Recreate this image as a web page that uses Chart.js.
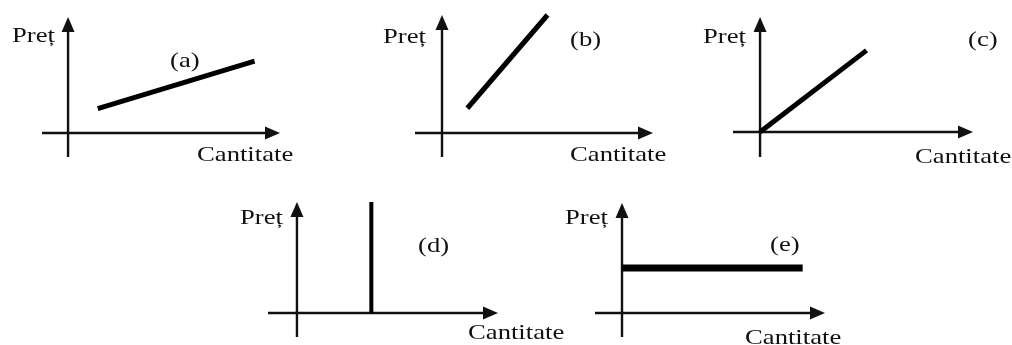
<!DOCTYPE html>
<html>
<head>
<meta charset="utf-8">
<script src="https://cdn.jsdelivr.net/npm/chart.js@4"></script>
<style>
  body { margin: 0; background: #fff; width: 1012px; height: 345px; position: relative; overflow: hidden; }
  canvas { position: absolute; }
  .lbl { position: absolute; font-family: 'Liberation Serif', serif; font-size: 21px; line-height: 1;
         color: #111; transform: scaleX(1.27); transform-origin: left top; white-space: nowrap; }
</style>
</head>
<body>
<script>
// data for the five supply curves (quantity / price, arbitrary units)
const panelNames = ['(a)', '(b)', '(c)', '(d)', '(e)']
const axisQty = 'Cantitate'
const axisPrice = 'Preț'

const qtyA = [1.4, 8.8]
const priceA = [2.1, 6.2]
const qtyB = [1.2, 5.0]
const priceB = [2.1, 10]
const qtyC = [0, 5.0]
const priceC = [0, 7.1]
const qtyD = [3.7, 3.7]
const priceD = [0, 10]
const qtyE = [0, 8.9]
const priceE = [4.1, 4.1]

const allQty = [qtyA, qtyB, qtyC, qtyD, qtyE]
const allPrice = [priceA, priceB, priceC, priceD, priceE]

// where each little plot sits on the page
const boxes = [
  {left: 42, top: 17, w: 238, h: 140, xMin: -1.23, yMin: -2.07, lw: 5},
  {left: 415, top: 15, w: 238, h: 142, xMin: -1.28, yMin: -2.03, lw: 5},
  {left: 733, top: 17, w: 240, h: 140, xMin: -1.27, yMin: -2.17, lw: 5},
  {left: 268, top: 202, w: 230, h: 135, xMin: -1.44, yMin: -2.16, lw: 4},
  {left: 595, top: 203, w: 230, h: 134, xMin: -1.33, yMin: -2.18, lw: 7}
]

// text spots: [price label, panel name, quantity label]  (left, top)
const textSpots = [
  [[12, 25], [170, 50], [197, 144]],
  [[383, 26], [570, 29], [570, 144]],
  [[703, 26], [968, 29], [915, 146]],
  [[240, 207], [418, 235], [468, 322]],
  [[565, 207], [770, 234], [745, 327]]
]

const PAD = 10

// draws the two axes through 0 with arrow heads
const arrowAxes = {
  id: 'arrowAxes',
  beforeDatasetsDraw(chart) {
    const ctx = chart.ctx
    const xs = chart.scales.x
    const ys = chart.scales.y
    const x0 = xs.getPixelForValue(0)
    const y0 = ys.getPixelForValue(0)
    const xEnd = xs.getPixelForValue(xs.max)
    const yEnd = ys.getPixelForValue(ys.max)
    ctx.save()
    ctx.strokeStyle = '#111'
    ctx.fillStyle = '#111'
    ctx.lineWidth = 2.4
    ctx.beginPath()
    ctx.moveTo(xs.getPixelForValue(xs.min), y0)
    ctx.lineTo(xEnd - 10, y0)
    ctx.moveTo(x0, ys.getPixelForValue(ys.min))
    ctx.lineTo(x0, yEnd + 10)
    ctx.stroke()
    // arrow heads
    ctx.beginPath()
    ctx.moveTo(xEnd, y0)
    ctx.lineTo(xEnd - 15, y0 - 6.5)
    ctx.lineTo(xEnd - 15, y0 + 6.5)
    ctx.closePath()
    ctx.fill()
    ctx.beginPath()
    ctx.moveTo(x0, yEnd)
    ctx.lineTo(x0 - 6.5, yEnd + 15)
    ctx.lineTo(x0 + 6.5, yEnd + 15)
    ctx.closePath()
    ctx.fill()
    ctx.restore()
  }
}

boxes.forEach((b, i) => {
  const cv = document.createElement('canvas')
  cv.width = b.w + PAD * 2
  cv.height = b.h + PAD * 2
  cv.style.left = (b.left - PAD) + 'px'
  cv.style.top = (b.top - PAD) + 'px'
  document.body.appendChild(cv)

  const pts = allQty[i].map((q, k) => ({x: q, y: allPrice[i][k]}))

  new Chart(cv, {
    type: 'scatter',
    data: {
      datasets: [{
        data: pts,
        showLine: true,
        borderColor: '#000',
        borderWidth: b.lw,
        borderCapStyle: 'butt',
        pointRadius: 0,
        clip: false
      }]
    },
    options: {
      responsive: false,
      animation: false,
      devicePixelRatio: 1,
      layout: {padding: PAD},
      plugins: {legend: {display: false}, tooltip: {enabled: false}},
      scales: {
        x: {type: 'linear', min: b.xMin, max: 10, display: false},
        y: {type: 'linear', min: b.yMin, max: 10, display: false}
      }
    },
    plugins: [arrowAxes]
  })

  const words = [axisPrice, panelNames[i], axisQty]
  words.forEach((w, k) => {
    const s = document.createElement('span')
    s.className = 'lbl'
    s.textContent = w
    s.style.left = textSpots[i][k][0] + 'px'
    s.style.top = textSpots[i][k][1] + 'px'
    document.body.appendChild(s)
  })
})
</script>
</body>
</html>
